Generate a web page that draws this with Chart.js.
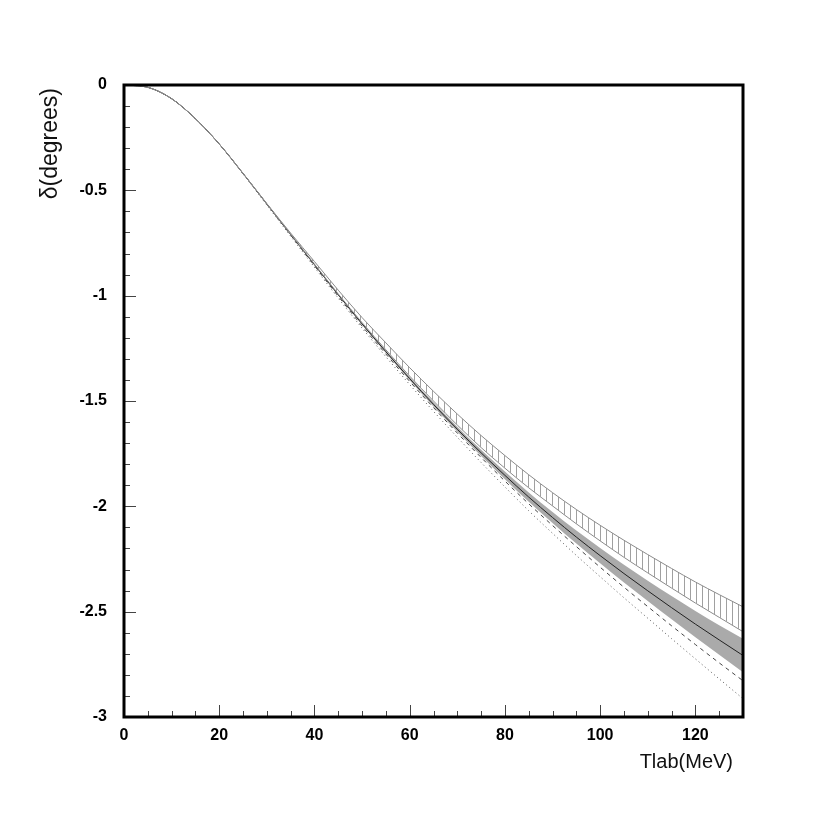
<!DOCTYPE html>
<html>
<head>
<meta charset="utf-8">
<script src="https://cdn.jsdelivr.net/npm/chart.js@4.4.1/dist/chart.umd.min.js"></script>
<style>
  html, body { margin: 0; padding: 0; background: #fff; }
  #wrap { width: 830px; height: 830px; }
</style>
</head>
<body>
<div id="wrap"><canvas id="phaseChart" width="830" height="830"></canvas></div>
<script>
// energie Tlab (MeV)
const tlab = [0, 5, 10, 15, 20, 25, 30, 35, 40, 45, 50, 55, 60, 65, 70, 75, 80, 85, 90, 95, 100, 105, 110, 115, 120, 125, 130];

// courbe centrale (trait plein)
const central = [0, -0.011, -0.065, -0.160, -0.280, -0.420, -0.565, -0.710, -0.853, -0.996, -1.134, -1.266, -1.394, -1.516, -1.634, -1.746, -1.853, -1.956, -2.053, -2.146, -2.234, -2.319, -2.401, -2.481, -2.559, -2.634, -2.708];

// bande grise autour de la courbe centrale
const grayHigh = [0, -0.011, -0.065, -0.160, -0.280, -0.420, -0.565, -0.710, -0.851, -0.993, -1.130, -1.260, -1.386, -1.506, -1.622, -1.731, -1.835, -1.934, -2.027, -2.115, -2.198, -2.277, -2.353, -2.426, -2.497, -2.564, -2.629];
const grayLow = [0, -0.011, -0.065, -0.160, -0.280, -0.420, -0.565, -0.710, -0.855, -0.999, -1.138, -1.272, -1.402, -1.526, -1.646, -1.761, -1.871, -1.978, -2.079, -2.177, -2.270, -2.361, -2.449, -2.536, -2.621, -2.704, -2.787];

// bande hachuree (bord haut / bord bas)
const hatchTop = [0, -0.011, -0.065, -0.160, -0.280, -0.419, -0.563, -0.703, -0.838, -0.974, -1.104, -1.224, -1.342, -1.454, -1.562, -1.664, -1.759, -1.850, -1.935, -2.015, -2.090, -2.161, -2.229, -2.295, -2.359, -2.419, -2.477];
const hatchBottom = [0, -0.011, -0.065, -0.160, -0.280, -0.420, -0.564, -0.708, -0.850, -0.992, -1.128, -1.257, -1.382, -1.500, -1.614, -1.721, -1.819, -1.912, -1.998, -2.083, -2.164, -2.242, -2.316, -2.388, -2.459, -2.527, -2.595];

// tirets et pointilles
const dashed = [0, -0.011, -0.065, -0.160, -0.280, -0.420, -0.565, -0.712, -0.858, -1.003, -1.144, -1.277, -1.407, -1.531, -1.652, -1.768, -1.880, -1.988, -2.091, -2.191, -2.289, -2.384, -2.476, -2.567, -2.656, -2.743, -2.828];
const dotted = [0, -0.011, -0.065, -0.160, -0.281, -0.422, -0.570, -0.718, -0.865, -1.012, -1.154, -1.290, -1.422, -1.549, -1.672, -1.792, -1.908, -2.021, -2.128, -2.233, -2.334, -2.434, -2.531, -2.628, -2.724, -2.819, -2.913];

// graduations
const xTicks = [0, 20, 40, 60, 80, 100, 120];
const xTickLabels = ['0', '20', '40', '60', '80', '100', '120'];
const yTicks = [0, -0.5, -1, -1.5, -2, -2.5, -3];
const yTickLabels = ['0', '-0.5', '-1', '-1.5', '-2', '-2.5', '-3'];

const pts = (ys) => tlab.map((t, i) => ({ x: t, y: ys[i] }));

// motif de hachures verticales
function hatchPattern() {
    const c = document.createElement('canvas');
    c.width = 6;
    c.height = 6;
    const g = c.getContext('2d');
    g.fillStyle = '#a0a0a0';
    g.fillRect(0, 0, 1, 6);
    return g.createPattern(c, 'repeat');
}

const lineBase = { pointRadius: 0, borderWidth: 1, cubicInterpolationMode: 'monotone', fill: false };

// cadre, petites graduations et titres des axes
const framePlugin = {
    id: 'frame',
    afterDraw(chart) {
        const { ctx, chartArea: a, scales } = chart;
        ctx.save();
        ctx.strokeStyle = '#444';
        ctx.lineWidth = 1;
        ctx.beginPath();
        for (let v = 0; v <= 130; v += 5) {
            const px = Math.round(scales.x.getPixelForValue(v)) + 0.5;
            const len = v % 20 === 0 ? 12 : 6;
            ctx.moveTo(px, a.bottom);
            ctx.lineTo(px, a.bottom - len);
        }
        for (let i = 0; i <= 30; i++) {
            const py = Math.round(scales.y.getPixelForValue(-i / 10)) + 0.5;
            const len = i % 5 === 0 ? 12 : 6;
            ctx.moveTo(a.left, py);
            ctx.lineTo(a.left + len, py);
        }
        ctx.stroke();

        ctx.strokeStyle = '#000';
        ctx.lineWidth = 3;
        ctx.strokeRect(a.left, a.top, a.right - a.left, a.bottom - a.top);

        ctx.fillStyle = '#111';
        ctx.font = '20px "Liberation Sans", Arial, sans-serif';
        ctx.textAlign = 'right';
        ctx.textBaseline = 'middle';
        ctx.fillText('Tlab(MeV)', 733, 762);

        ctx.translate(51, 88);
        ctx.rotate(-Math.PI / 2);
        ctx.font = '23px "Liberation Sans", Arial, sans-serif';
        ctx.fillText('δ(degrees)', 0, 0);
        ctx.restore();
    }
};

// order : les valeurs basses sont dessinees par-dessus
const config = {
    type: 'line',
    data: {
        datasets: [
            { ...lineBase, order: 7, data: pts(grayLow), borderWidth: 0, borderColor: 'rgba(0,0,0,0)' },
            { ...lineBase, order: 6, data: pts(grayHigh), borderWidth: 0, borderColor: 'rgba(0,0,0,0)', fill: '-1', backgroundColor: '#aaaaaa' },
            { ...lineBase, order: 2, data: pts(hatchBottom), borderColor: '#8a8a8a' },
            { ...lineBase, order: 1, data: pts(hatchTop), borderColor: '#8a8a8a', fill: '-1', backgroundColor: hatchPattern() },
            { ...lineBase, order: 4, data: pts(dashed), borderColor: '#444', borderDash: [4, 4] },
            { ...lineBase, order: 5, data: pts(dotted), borderColor: '#555', borderDash: [1, 3] },
            { ...lineBase, order: 3, data: pts(central), borderColor: '#222' }
        ]
    },
    options: {
        responsive: false,
        animation: false,
        layout: { padding: { left: 0, top: 85, right: 87, bottom: 0 } },
        scales: {
            x: {
                type: 'linear',
                min: 0,
                max: 130,
                grid: { display: false, drawTicks: false, tickLength: 0 },
                border: { display: false },
                ticks: {
                    stepSize: 20,
                    includeBounds: false,
                    autoSkip: false,
                    maxRotation: 0,
                    padding: 9,
                    color: '#000',
                    font: { family: '"Liberation Sans", Arial, sans-serif', size: 16, weight: 'bold' },
                    callback: (v) => { const i = xTicks.indexOf(v); return i >= 0 ? xTickLabels[i] : ''; }
                },
                afterFit: (s) => { s.height = 113; }
            },
            y: {
                type: 'linear',
                min: -3,
                max: 0,
                grid: { display: false, drawTicks: false, tickLength: 0 },
                border: { display: false },
                ticks: {
                    stepSize: 0.5,
                    autoSkip: false,
                    padding: 17,
                    color: '#000',
                    font: { family: '"Liberation Sans", Arial, sans-serif', size: 16, weight: 'bold' },
                    callback: (v) => { const i = yTicks.indexOf(v); return i >= 0 ? yTickLabels[i] : ''; }
                },
                afterFit: (s) => { s.width = 124; }
            }
        },
        plugins: {
            legend: { display: false },
            tooltip: { enabled: false }
        }
    },
    plugins: [framePlugin]
};

const phaseChart = new Chart(document.getElementById('phaseChart'), config);
</script>
</body>
</html>
